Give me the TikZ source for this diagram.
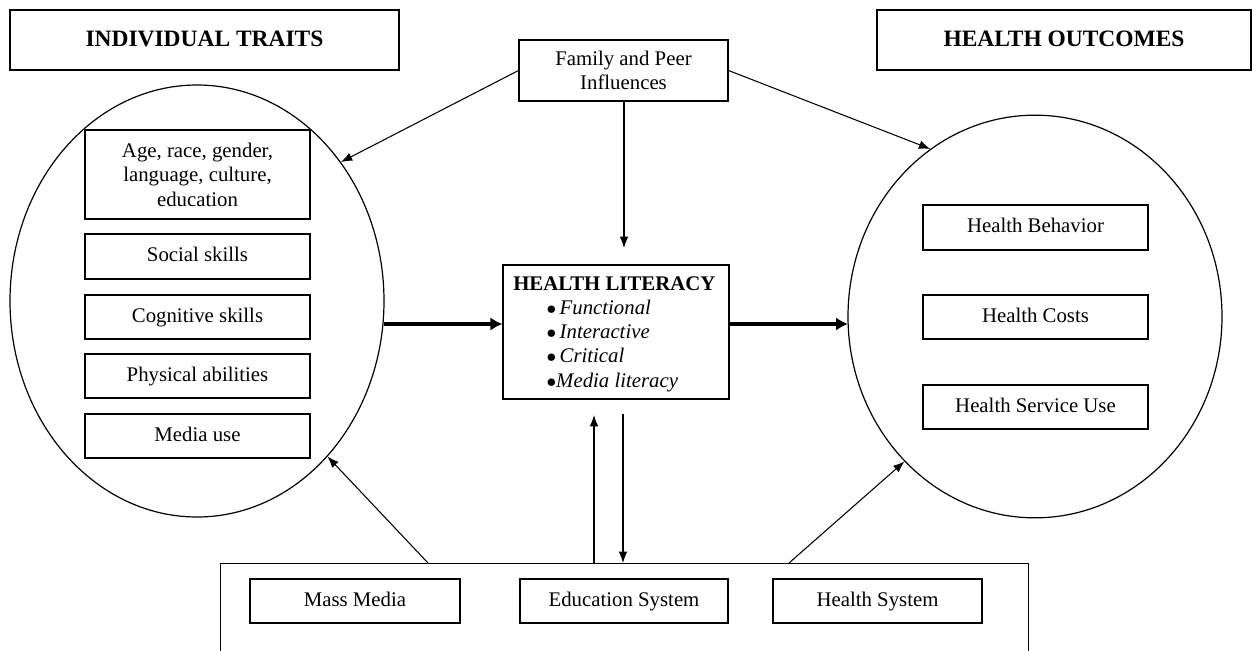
\documentclass[tikz,border=0pt]{standalone}
\usepackage{fontspec}
\setmainfont{Liberation Serif}
\usetikzlibrary{arrows.meta,shapes.geometric}
\begin{document}
\begin{tikzpicture}[x=0.75pt,y=-0.75pt,
  every node/.style={font=\fontsize{15.6pt}{18.4pt}\selectfont, inner sep=0pt},
  box/.style={draw, line width=0.8pt, rectangle, align=center},
  one/.style={box, text height=11.5pt, text depth=3.5pt},
  titlebox/.style={box, font=\fontsize{17.6pt}{20pt}\selectfont\bfseries, text height=12.5pt, text depth=3pt},
  oval/.style={draw, line width=0.9pt, ellipse},
  thin/.style={line width=0.8pt, -{Latex[length=8.5pt,width=6.5pt]}},
  thick/.style={line width=3pt, -{Latex[length=9pt,width=10pt]}}]
\useasboundingbox (0,0) rectangle (1252,650);
\clip (0,0) rectangle (1252,650);
\fill[white] (0,0) rectangle (1252,650);
% titles
\node[titlebox, minimum width=291.75pt, minimum height=45pt] (it) at (204.5,40) {INDIVIDUAL TRAITS};
\node[titlebox, minimum width=280.5pt, minimum height=45pt] (ho) at (1064,40) {HEALTH OUTCOMES};
% ellipses
\node[oval, minimum width=280.5pt, minimum height=324pt] (le) at (197,301) {};
\node[oval, minimum width=280.5pt, minimum height=302pt] (re) at (1035,316.5) {};
% left inner boxes
\node[box, minimum width=168.75pt, minimum height=66.75pt, fill=white] (age) at (197.5,174.5) {Age, race, gender,\\language, culture,\\education};
\node[one, minimum width=168.75pt, minimum height=33.75pt] (soc) at (197.5,256.5) {Social skills};
\node[one, minimum width=168.75pt, minimum height=33pt] (cog) at (197.5,317) {Cognitive skills};
\node[one, minimum width=168.75pt, minimum height=33pt] (phy) at (197.5,376) {Physical abilities};
\node[one, minimum width=168.75pt, minimum height=33pt] (med) at (197.5,436) {Media use};
% right inner boxes
\node[one, minimum width=168.75pt, minimum height=33.75pt] (hb) at (1035.5,227.5) {Health Behavior};
\node[one, minimum width=168.75pt, minimum height=33pt] (hc) at (1035.5,317) {Health Costs};
\node[one, minimum width=168.75pt, minimum height=33pt] (hs) at (1035.5,407) {Health Service Use};
% family
\node[box, minimum width=156.75pt, minimum height=45.75pt] (fam) at (623.5,70.5) {Family and Peer\\Influences};
% health literacy
\node[box, minimum width=169.5pt, minimum height=100.5pt] (hl) at (616,332) {};
\node[anchor=north west, align=left, font=\fontsize{15.6pt}{18.2pt}\selectfont] (hlt) at (513,276) {\textbf{HEALTH LITERACY}\\
\hspace*{25pt}$\bullet$\,\textit{Functional}\\
\hspace*{25pt}$\bullet$\,\textit{Interactive}\\
\hspace*{25pt}$\bullet$\,\textit{Critical}\\
\hspace*{25pt}$\bullet$\textit{Media literacy}};
% bottom
\node[box, minimum width=606pt, minimum height=105pt, anchor=north west] (bot) at (220,563) {};
\node[one, minimum width=157.5pt, minimum height=33pt] (mm) at (355,601) {Mass Media};
\node[one, minimum width=156pt, minimum height=33pt] (es) at (624,601) {Education System};
\node[one, minimum width=156.75pt, minimum height=33pt] (hsys) at (877.5,601) {Health System};
% coordinates
\coordinate (mmS) at (428,563);
\coordinate (hsS) at (789,563);
\coordinate (upS) at (594,563);
\coordinate (upE) at (594,415);
\coordinate (dnS) at (623,414);
\coordinate (dnE) at (623,563);
\coordinate (famS) at (624,101);
\coordinate (famE) at (624,248);
\coordinate (ta) at (384,324);
\coordinate (tb) at (848,324);
% arrows
\draw[thin] (fam.west) -- (le.44);
\draw[thin] (fam.east) -- (re.122.8);
\draw[thin] (famS) -- (famE);
\draw[thin] (mmS) -- (le.-50.7);
\draw[thin] (hsS) -- (re.-132);
\draw[thin] (upS) -- (upE);
\draw[thin] (dnS) -- (dnE);
\draw[thick] (ta) -- (hl.west |- ta);
\draw[thick] (hl.east |- tb) -- (tb);
\end{tikzpicture}
\end{document}
